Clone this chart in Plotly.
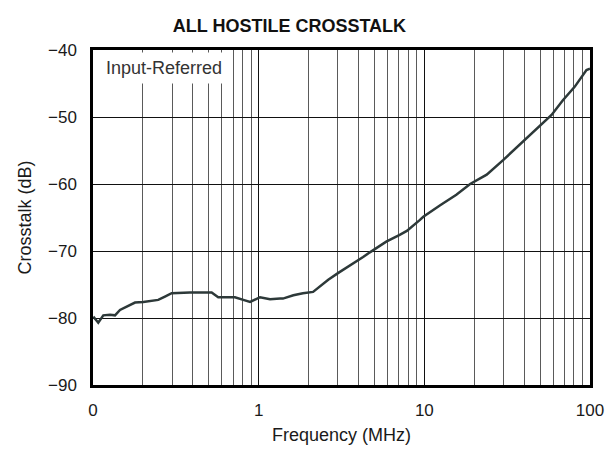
import plotly.graph_objects as go

# Measured all-hostile crosstalk, input-referred
freq_mhz = [0.1004, 0.1076, 0.1154, 0.1266, 0.1358, 0.1455, 0.1598, 0.1793, 0.2010,
            0.2259, 0.2476, 0.2718, 0.2985, 0.3845, 0.5203, 0.5700, 0.6413, 0.7191,
            0.8078, 0.8874, 1.019, 1.171, 1.347, 1.40, 1.62, 1.85, 2.13, 2.34, 2.63,
            3.01, 3.55, 4.27, 4.69, 5.89, 7.1, 7.84, 9.37, 9.86, 12.4, 15.6, 18.9,
            21.6, 23.8, 30.0, 38.5, 49.9, 58.6, 68.6, 80.8, 95.2, 100]
crosstalk_db = [-79.8, -80.7, -79.6, -79.5, -79.6, -78.8, -78.3, -77.7, -77.6,
                -77.4, -77.3, -76.8, -76.3, -76.2, -76.2, -76.9, -76.9, -76.9,
                -77.3, -77.6, -76.9, -77.2, -77.1, -77.1, -76.6, -76.3, -76.1, -75.3, -74.3,
                -73.3, -72.2, -70.9, -70.2, -68.6, -67.6, -67.0, -65.4, -64.9, -63.2, -61.6, -60.0,
                -59.2, -58.6, -56.4, -53.9, -51.4, -49.7, -47.5, -45.5, -43.0, -42.8]

x_major = [0.1, 1, 10, 100]
x_major_text = ["0", "1", "10", "100"]
x_minor = [m * d for d in (0.1, 1, 10) for m in range(2, 10)]
y_ticks = [-90, -80, -70, -60, -50, -40]
y_tick_text = ["\u221290", "\u221280", "\u221270", "\u221260", "\u221250", "\u221240"]

font = "Liberation Sans, Arial, sans-serif"

fig = go.Figure()
fig.add_trace(go.Scatter(
    x=freq_mhz, y=crosstalk_db, mode="lines",
    line=dict(color="#2d3939", width=2.5),
    showlegend=False, hoverinfo="skip",
))

fig.update_layout(
    width=608, height=451, autosize=False,
    margin=dict(l=93, r=18, t=50, b=66, autoexpand=False),
    paper_bgcolor="white", plot_bgcolor="white",
    font=dict(family=font, size=17, color="#1a1a1a"),
    title=dict(text="<b>ALL HOSTILE CROSSTALK</b>", x=0.476, xanchor="center",
               y=0.943, yanchor="middle", font=dict(size=18, color="#111")),
    xaxis=dict(
        type="log", range=[-1, 2], automargin=False,
        tickmode="array", tickvals=x_major, ticktext=x_major_text,
        showgrid=True, gridcolor="#111", gridwidth=1,
        minor=dict(tickmode="array", tickvals=x_minor, showgrid=True,
                   gridcolor="#5a5a5a", gridwidth=1, ticks=""),
        ticks="", showline=True, linecolor="black", linewidth=2.5, mirror=True,
        zeroline=False, ticklabelstandoff=8, tickfont=dict(size=17),
        title=dict(text="Frequency (MHz)", standoff=10, font=dict(size=18)),
    ),
    yaxis=dict(
        range=[-90, -40], automargin=False,
        tickmode="array", tickvals=y_ticks, ticktext=y_tick_text,
        showgrid=True, gridcolor="#111", gridwidth=1,
        ticks="", showline=True, linecolor="black", linewidth=2.5, mirror=True,
        zeroline=False, ticklabelstandoff=10, tickfont=dict(size=17),
        title=dict(text="Crosstalk (dB)", standoff=12, font=dict(size=18)),
    ),
    annotations=[dict(
        text="Input-Referred", xref="paper", yref="paper",
        x=0.014, y=0.994, xanchor="left", yanchor="top", showarrow=False,
        bgcolor="white", borderpad=5, font=dict(size=18, color="#333"),
    )],
)

fig.write_html("out.html")
